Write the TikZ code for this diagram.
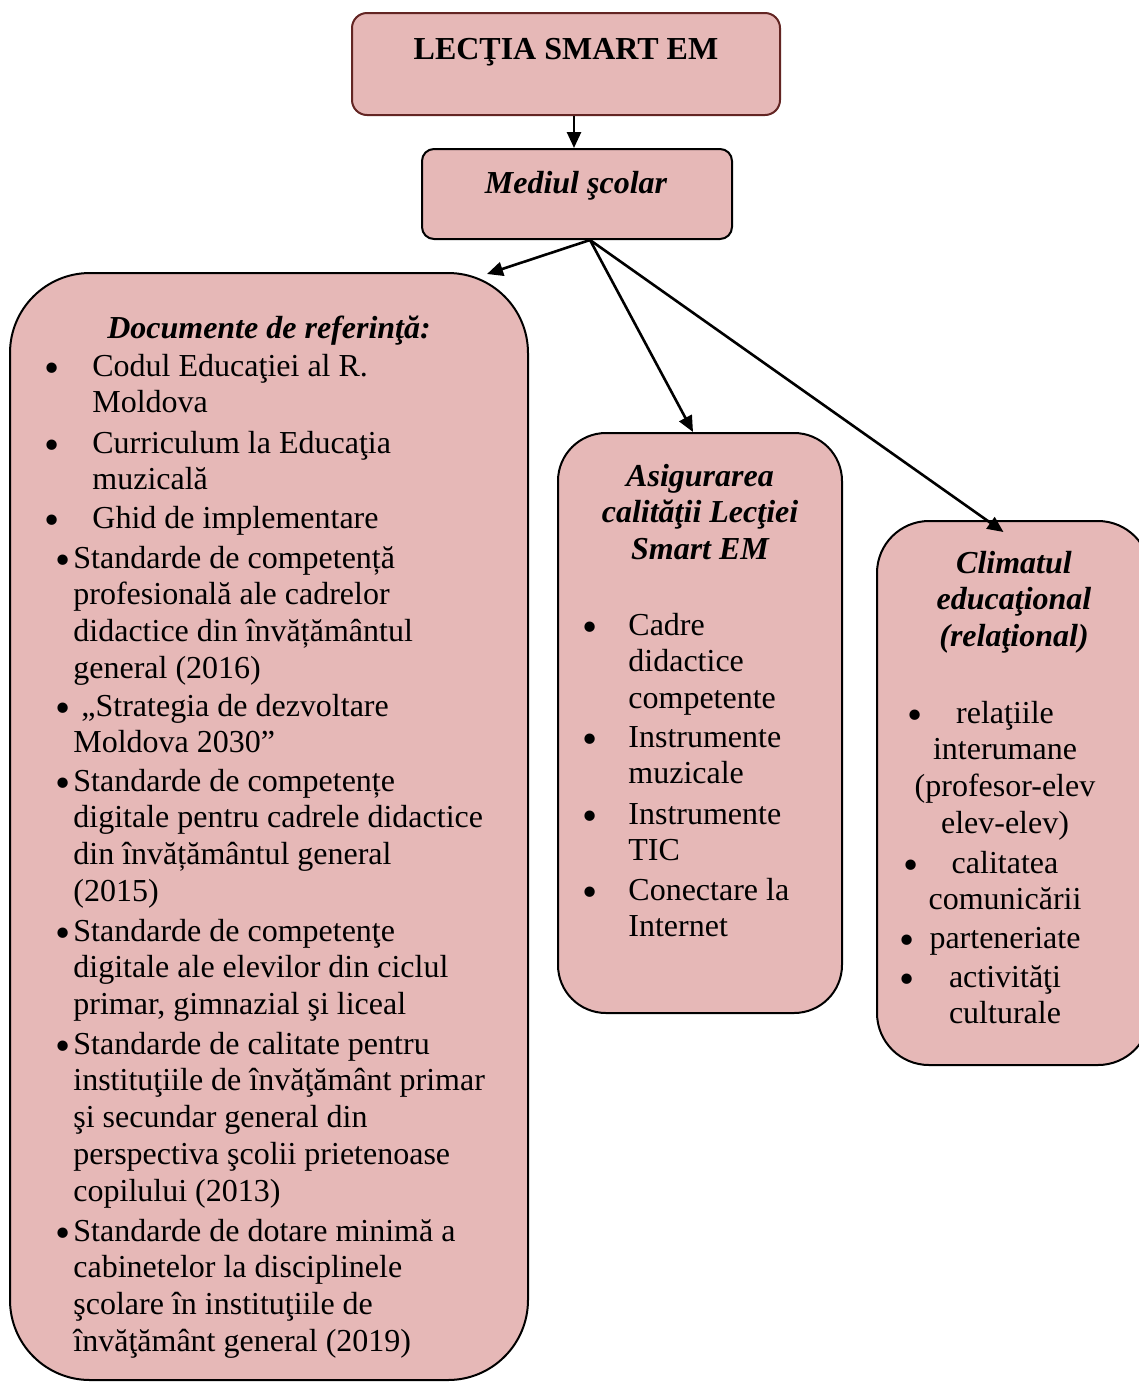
\documentclass[tikz,border=0pt]{standalone}
\usepackage{fontspec}
\setmainfont{Liberation Serif}
\usetikzlibrary{arrows.meta}
\definecolor{boxfill}{HTML}{E6B8B7}
\definecolor{boxline}{HTML}{632523}
\newcommand{\bdot}{\raisebox{-3pt}{\scalebox{1.35}{•}}}
\newcommand{\bitem}[2]{\makebox[#1][l]{\bdot}\begin{tabular}[t]{@{}l@{}}#2\end{tabular}}
\newcommand{\clines}[1]{\begin{tabular}[t]{@{}c@{}}#1\end{tabular}}

\begin{document}
\begin{tikzpicture}[x=0.5pt,y=0.5pt,yscale=-1,xscale=1,
  box/.style={draw=black,line width=1pt,fill=boxfill,rounded corners=#1,inner sep=0pt},
  arr/.style={line width=1.3pt,-{Triangle[length=8pt,width=7pt]}},
  txt/.style={inner sep=0pt,anchor=base west,font=\fontsize{16}{18.4}\selectfont},
  ctr/.style={inner sep=0pt,anchor=base,font=\fontsize{16}{18.4}\selectfont},
  ttl/.style={inner sep=0pt,anchor=base,font=\fontsize{16}{18.4}\selectfont\bfseries\itshape}]
\useasboundingbox (0,0) rectangle (1139,1382);

%Shape: Rounded Rect
\node (lectia) [box=7.5pt,draw=boxline,minimum width=214pt,minimum height=51pt] at (566,64) {};
%Shape: Rounded Rect
\node (mediul) [box=6pt,minimum width=155pt,minimum height=45pt] at (577,194) {};
%Shape: Rounded Rect
\node (docs) [box=40pt,minimum width=259pt,minimum height=553.5pt] at (269,826.5) {};
%Shape: Rounded Rect
\node (asig) [box=24pt,minimum width=142pt,minimum height=290pt] at (700,723) {};
%Shape: Rounded Rect
\node (clim) [box=26pt,minimum width=136.5pt,minimum height=272pt] at (1013.5,793) {};

%Straight Lines
\draw [arr] ([xshift=-1.5pt]lectia.south -| mediul.north) -- ([xshift=-1.5pt]mediul.north);
\coordinate (fork) at ([xshift=6.5pt]mediul.south);
\draw [arr] (fork) -- ([xshift=-21pt,yshift=1pt]docs.north east);
\draw [arr] (fork) -- ([xshift=-3.5pt]asig.north);
\draw [arr] (fork) -- ([xshift=-5pt,yshift=6pt]clim.north);

% Text Node
\node (tLectia) [ttl,font=\fontsize{16}{18.4}\selectfont\bfseries] at (566,59) {LECŢIA SMART EM};
% Text Node
\node (tMediul) [ttl] at (576,193) {Mediul şcolar};

% Text Node
\node (tDocs) [ttl] at (269,338) {Documente de referinţă:};
% Text Node
\node (d1) [txt] at (44,376) {\bitem{24pt}{Codul Educaţiei al R.\\Moldova}};
% Text Node
\node (d2) [txt] at (44,453) {\bitem{24pt}{Curriculum la Educaţia\\muzicală}};
% Text Node
\node (d3) [txt] at (44,528) {\bitem{24pt}{Ghid de implementare}};
% Text Node
\node (d4) [txt] at (55,568) {\bitem{9pt}{Standarde de competență\\profesională ale cadrelor\\didactice din învățământul\\general (2016)}};
% Text Node
\node (d5) [txt] at (55,716) {\bitem{9pt}{\ „Strategia de dezvoltare\\Moldova 2030”}};
% Text Node
\node (d6) [txt] at (55,791) {\bitem{9pt}{Standarde de competențe\\digitale pentru cadrele didactice\\din învățământul general\\(2015)}};
% Text Node
\node (d7) [txt] at (55,941) {\bitem{9pt}{Standarde de competenţe\\digitale ale elevilor din ciclul\\primar, gimnazial şi liceal}};
% Text Node
\node (d8) [txt] at (55,1054) {\bitem{9pt}{Standarde de calitate pentru\\instituţiile de învăţământ primar\\şi secundar general din\\perspectiva şcolii prietenoase\\copilului (2013)}};
% Text Node
\node (d9) [txt] at (55,1241) {\bitem{9pt}{Standarde de dotare minimă a\\cabinetelor la disciplinele\\şcolare în instituţiile de\\învăţământ general (2019)}};

% Text Node
\node (tAsig) [ttl] at (700,486) {\clines{Asigurarea\\calităţii Lecţiei\\Smart EM}};
% Text Node
\node (a1) [txt] at (582,635) {\bitem{23pt}{Cadre\\didactice\\competente}};
% Text Node
\node (a2) [txt] at (582,747) {\bitem{23pt}{Instrumente\\muzicale}};
% Text Node
\node (a3) [txt] at (582,824) {\bitem{23pt}{Instrumente\\TIC}};
% Text Node
\node (a4) [txt] at (582,900) {\bitem{23pt}{Conectare la\\Internet}};

% Text Node
\node (tClim) [ttl] at (1014,573) {\clines{Climatul\\educaţional\\(relaţional)}};
% Text Node
\node (c1) [ctr] at (1005,723) {\clines{\llap{\bdot\hspace{17pt}}relaţiile\\interumane\\(profesor-elev\\elev-elev)}};
% Text Node
\node (c2) [ctr] at (1005,873) {\clines{\llap{\bdot\hspace{16.5pt}}calitatea\\comunicării}};
% Text Node
\node (c3) [ctr] at (1005,948) {\clines{\llap{\bdot\hspace{7.5pt}}parteneriate}};
% Text Node
\node (c4) [ctr] at (1005,987) {\clines{\llap{\bdot\hspace{17pt}}activităţi\\culturale}};

\end{tikzpicture}
\end{document}
